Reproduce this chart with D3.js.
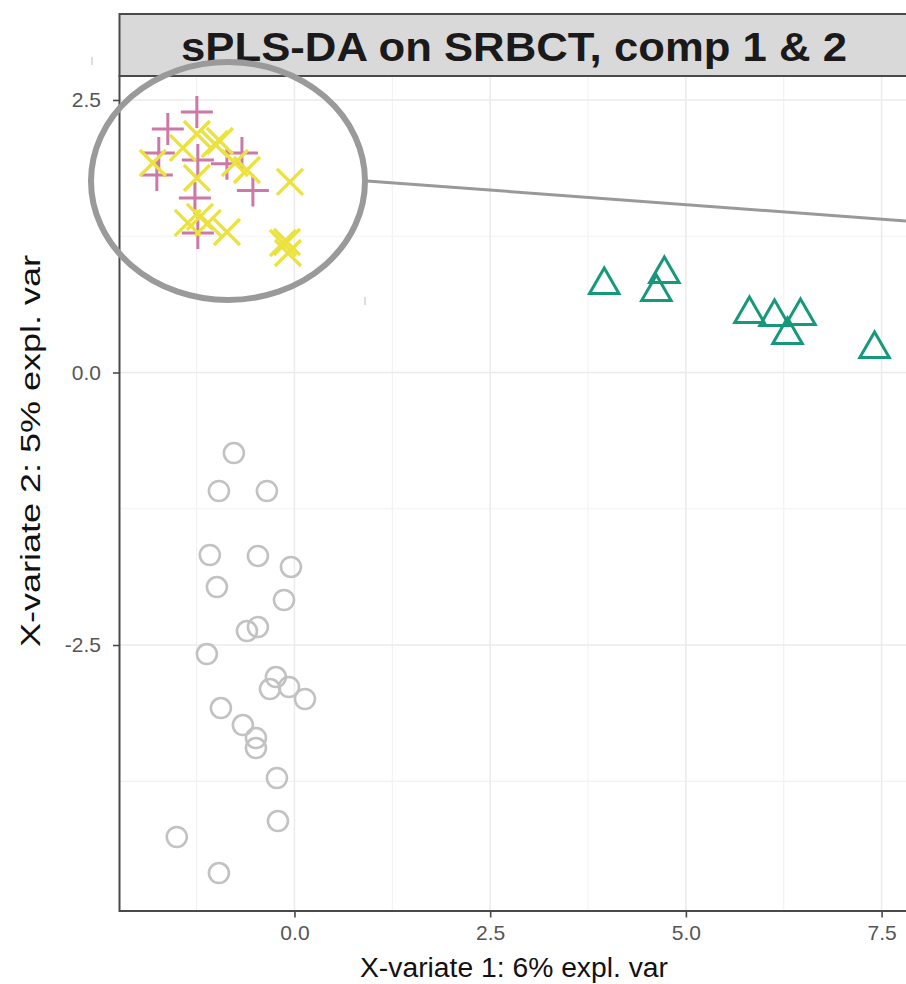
<!DOCTYPE html>
<html>
<head>
<meta charset="utf-8">
<script src="https://cdn.jsdelivr.net/npm/d3@7"></script>
<style>
body { margin: 0; background: #fff; }
svg { display: block; font-family: "Liberation Sans", Arial, sans-serif; }
</style>
</head>
<body>
<svg id="chart" width="906" height="984"></svg>
<script>
// sample scores on the first two components, one pair of arrays per class
var ewsX = [-0.774, -0.965, -0.352, -1.081, -0.467, -0.045, -0.991, -0.134, -0.607, -0.467, -1.119, -0.237,
            -0.313, -0.070, 0.134, -0.940, -0.659, -0.492, -0.492, -0.224, -0.211, -1.503, -0.965];
var ewsY = [-0.739, -1.087, -1.087, -1.674, -1.683, -1.784, -1.968, -2.087, -2.372, -2.335, -2.583, -2.794,
            -2.904, -2.885, -2.995, -3.078, -3.234, -3.353, -3.445, -3.720, -4.115, -4.261, -4.592];

var blX = [3.957, 4.725, 4.623, 5.812, 6.132, 6.464, 6.298, 7.410];
var blY = [0.803, 0.904, 0.739, 0.537, 0.509, 0.518, 0.344, 0.216];

var nbX = [-1.247, -1.618, -1.733, -1.758, -1.234, -0.671, -0.863, -0.531, -1.272, -1.234];
var nbY = [2.390, 2.234, 2.014, 1.812, 1.950, 2.014, 1.914, 1.670, 1.601, 1.280];

var rmsX = [-1.809, -1.426, -1.247, -1.017, -0.953, -1.247, -0.761, -0.607, -0.058, -1.362, -1.208, -1.106,
            -0.863, -0.147, -0.083, -0.096];
var rmsY = [1.922, 2.060, 2.188, 2.096, 2.124, 1.784, 1.922, 1.858, 1.748, 1.372, 1.427, 1.372,
            1.289, 1.188, 1.096, 1.197];

var xTicks = [0, 2.5, 5, 7.5];
var xMinor = [-1.25, 1.25, 3.75, 6.25];
var yTicks = [-2.5, 0, 2.5];
var yMinor = [-3.75, -1.25, 1.25];

var chartTitle = "sPLS-DA on SRBCT, comp 1 & 2";
var xTitle = "X-variate 1: 6% expl. var";
var yTitle = "X-variate 2: 5% expl. var";

function zip(xs, ys) {
    return xs.map((d, i) => ({x: d, y: ys[i]}));
}

var panel = {left: 119.5, right: 909, top: 76, bottom: 911};
var stripTop = 14;

var xScale = d3.scaleLinear().domain([-2.235, 7.85]).range([panel.left, panel.right]);
var yScale = d3.scaleLinear().domain([-4.94, 2.72]).range([panel.bottom, panel.top]);

var svg = d3.select('#chart');

// grid
var grid = svg.append('g');
grid.selectAll('.vminor').data(xMinor).enter().append('line')
    .attr('x1', d => xScale(d)).attr('x2', d => xScale(d))
    .attr('y1', panel.top).attr('y2', panel.bottom)
    .attr('stroke', '#f2f2f2').attr('stroke-width', 1.2);
grid.selectAll('.hminor').data(yMinor).enter().append('line')
    .attr('y1', d => yScale(d)).attr('y2', d => yScale(d))
    .attr('x1', panel.left).attr('x2', panel.right)
    .attr('stroke', '#f2f2f2').attr('stroke-width', 1.2);
grid.selectAll('.vmajor').data(xTicks).enter().append('line')
    .attr('x1', d => xScale(d)).attr('x2', d => xScale(d))
    .attr('y1', panel.top).attr('y2', panel.bottom)
    .attr('stroke', '#ebebeb').attr('stroke-width', 1.5);
grid.selectAll('.hmajor').data(yTicks).enter().append('line')
    .attr('y1', d => yScale(d)).attr('y2', d => yScale(d))
    .attr('x1', panel.left).attr('x2', panel.right)
    .attr('stroke', '#ebebeb').attr('stroke-width', 1.5);

// marker shapes
function plusPath(r) {
    var p = d3.path();
    p.moveTo(-r, 0); p.lineTo(r, 0);
    p.moveTo(0, -r); p.lineTo(0, r);
    return p.toString();
}
function timesPath(r) {
    var p = d3.path();
    p.moveTo(-r, -r); p.lineTo(r, r);
    p.moveTo(-r, r); p.lineTo(r, -r);
    return p.toString();
}
function trianglePath(r) {
    var p = d3.path();
    var xc = r * Math.sqrt(3) / 2;
    p.moveTo(0, -r); p.lineTo(xc, r / 2); p.lineTo(-xc, r / 2); p.closePath();
    return p.toString();
}

var points = svg.append('g').attr('fill', 'none');

points.selectAll('.ews').data(zip(ewsX, ewsY)).enter().append('circle')
    .attr('cx', d => xScale(d.x)).attr('cy', d => yScale(d.y)).attr('r', 10)
    .attr('stroke', '#c2c2c2').attr('stroke-width', 2.6);

points.selectAll('.bl').data(zip(blX, blY)).enter().append('path')
    .attr('d', trianglePath(17))
    .attr('transform', d => `translate(${xScale(d.x)}, ${yScale(d.y)})`)
    .attr('stroke', '#16997a').attr('stroke-width', 3).attr('stroke-linejoin', 'miter');

points.selectAll('.nb').data(zip(nbX, nbY)).enter().append('path')
    .attr('d', plusPath(16))
    .attr('transform', d => `translate(${xScale(d.x)}, ${yScale(d.y)})`)
    .attr('stroke', '#cc79a7').attr('stroke-width', 3);

points.selectAll('.rms').data(zip(rmsX, rmsY)).enter().append('path')
    .attr('d', timesPath(13))
    .attr('transform', d => `translate(${xScale(d.x)}, ${yScale(d.y)})`)
    .attr('stroke', '#ebe23e').attr('stroke-width', 3.3);

// panel border
svg.append('rect')
    .attr('x', panel.left).attr('y', panel.top)
    .attr('width', panel.right - panel.left).attr('height', panel.bottom - panel.top)
    .attr('fill', 'none').attr('stroke', '#4a4a4a').attr('stroke-width', 2);

// strip with the title
svg.append('rect')
    .attr('x', panel.left).attr('y', stripTop)
    .attr('width', panel.right - panel.left).attr('height', panel.top - stripTop)
    .attr('fill', '#d9d9d9').attr('stroke', '#4a4a4a').attr('stroke-width', 2);
svg.append('text')
    .attr('x', 514).attr('y', 61)
    .attr('text-anchor', 'middle')
    .attr('font-size', 41).attr('font-weight', 'bold').attr('fill', '#1a1a1a')
    .attr('textLength', 666).attr('lengthAdjust', 'spacingAndGlyphs')
    .text(chartTitle);

// axes
var fmt = d => d.toFixed(1);
var xAxis = svg.append('g')
    .attr('transform', `translate(0, ${panel.bottom})`)
    .call(d3.axisBottom(xScale).tickValues(xTicks).tickFormat(fmt).tickSize(6.5).tickPadding(8));
var yAxis = svg.append('g')
    .attr('transform', `translate(${panel.left}, 0)`)
    .call(d3.axisLeft(yScale).tickValues(yTicks).tickFormat(fmt).tickSize(6.5).tickPadding(12));
[xAxis, yAxis].forEach(function(ax) {
    ax.attr('font-size', 21);
    ax.select('.domain').remove();
    ax.selectAll('line').attr('stroke', '#4a4a4a').attr('stroke-width', 1.6);
    ax.selectAll('text')
        .attr('fill', '#555')
        .attr('font-family', '"Liberation Sans", Arial, sans-serif');
});

svg.append('text')
    .attr('x', 514).attr('y', 977)
    .attr('text-anchor', 'middle').attr('font-size', 27).attr('fill', '#111')
    .attr('textLength', 308).attr('lengthAdjust', 'spacingAndGlyphs')
    .text(xTitle);
svg.append('text')
    .attr('transform', 'translate(40, 451) rotate(-90)')
    .attr('text-anchor', 'middle').attr('font-size', 27).attr('fill', '#111')
    .attr('textLength', 392).attr('lengthAdjust', 'spacingAndGlyphs')
    .text(yTitle);

// magnifier annotation over the cluster
svg.append('line')
    .attr('x1', 367).attr('y1', 181).attr('x2', 906).attr('y2', 221)
    .attr('stroke', '#999').attr('stroke-width', 3);
svg.append('ellipse')
    .attr('cx', 228).attr('cy', 181).attr('rx', 137).attr('ry', 119)
    .attr('fill', 'none').attr('stroke', '#9a9a9a').attr('stroke-width', 6);

// small stray marks in the picture
svg.append('line').attr('x1', 92).attr('x2', 92).attr('y1', 57).attr('y2', 65)
    .attr('stroke', '#bbb').attr('stroke-width', 1);
svg.append('line').attr('x1', 365).attr('x2', 365).attr('y1', 297).attr('y2', 305)
    .attr('stroke', '#bbb').attr('stroke-width', 1);
</script>
</body>
</html>
